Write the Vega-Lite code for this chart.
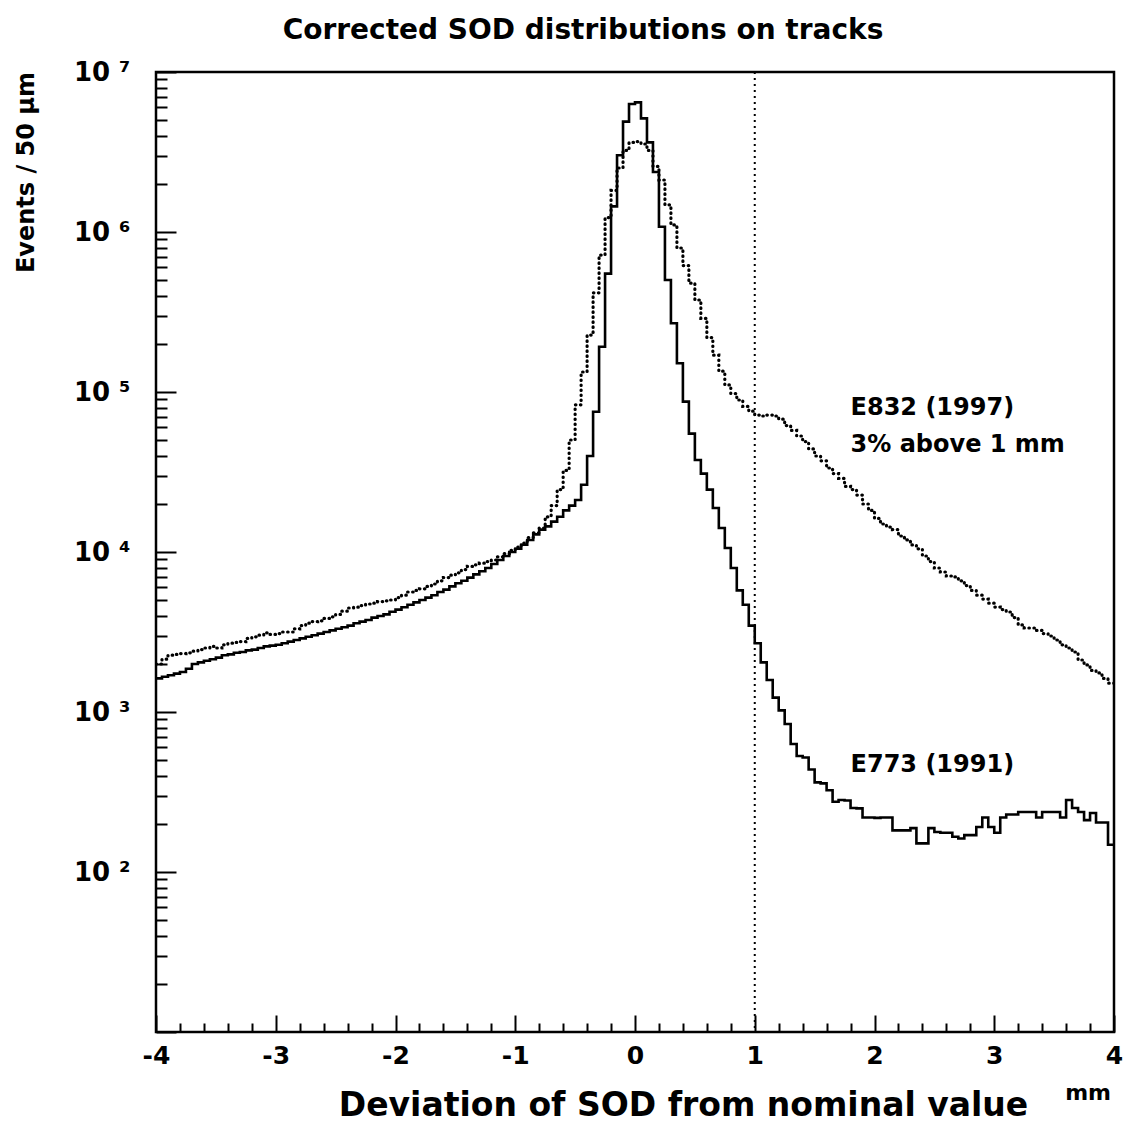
{
  "$schema": "https://vega.github.io/schema/vega-lite/v6.json",
  "width": 958,
  "height": 960,
  "autosize": {"type": "none"},
  "padding": {"left": 156, "top": 72, "right": 10, "bottom": 104},
  "background": "white",
  "title": {"text": "Corrected SOD distributions on tracks", "font": "DejaVu Sans", "fontSize": 28, "fontWeight": "bold", "color": "black", "anchor": "middle", "dx": -52, "offset": 14},
  "config": {
    "view": {"stroke": "black", "strokeWidth": 2.5},
    "axis": {"labelFont": "DejaVu Sans", "labelFontWeight": "bold", "labelColor": "black", "titleFont": "DejaVu Sans", "titleFontWeight": "bold", "titleColor": "black", "tickColor": "black", "tickWidth": 2, "grid": false, "domain": false, "labelFlush": false, "labelOverlap": false}
  },
  "resolve": {"axis": {"x": "independent", "y": "independent"}},
  "datasets": {
    "e773": [
      {"x":-4.00,"v":1622},{"x":-3.95,"v":1660},{"x":-3.90,"v":1698},{"x":-3.85,"v":1738},{"x":-3.80,"v":1778},{"x":-3.75,"v":1862},{"x":-3.70,"v":1995},{"x":-3.65,"v":2042},{"x":-3.60,"v":2089},{"x":-3.55,"v":2138},{"x":-3.50,"v":2188},{"x":-3.45,"v":2265},{"x":-3.40,"v":2291},{"x":-3.35,"v":2344},{"x":-3.30,"v":2371},{"x":-3.25,"v":2427},{"x":-3.20,"v":2455},{"x":-3.15,"v":2512},{"x":-3.10,"v":2570},{"x":-3.05,"v":2600},{"x":-3.00,"v":2630},{"x":-2.95,"v":2692},{"x":-2.90,"v":2754},{"x":-2.85,"v":2818},{"x":-2.80,"v":2884},{"x":-2.75,"v":2951},{"x":-2.70,"v":3020},{"x":-2.65,"v":3090},{"x":-2.60,"v":3162},{"x":-2.55,"v":3236},{"x":-2.50,"v":3311},{"x":-2.45,"v":3388},{"x":-2.40,"v":3467},{"x":-2.35,"v":3589},{"x":-2.30,"v":3673},{"x":-2.25,"v":3758},{"x":-2.20,"v":3890},{"x":-2.15,"v":3981},{"x":-2.10,"v":4074},{"x":-2.05,"v":4236},{"x":-2.00,"v":4365},{"x":-1.95,"v":4519},{"x":-1.90,"v":4677},{"x":-1.85,"v":4842},{"x":-1.80,"v":5012},{"x":-1.75,"v":5188},{"x":-1.70,"v":5370},{"x":-1.65,"v":5623},{"x":-1.60,"v":5821},{"x":-1.55,"v":6095},{"x":-1.50,"v":6383},{"x":-1.45,"v":6607},{"x":-1.40,"v":6918},{"x":-1.35,"v":7244},{"x":-1.30,"v":7586},{"x":-1.25,"v":7943},{"x":-1.20,"v":8414},{"x":-1.15,"v":8913},{"x":-1.10,"v":9441},{"x":-1.05,"v":10000},{"x":-1.00,"v":10470},{"x":-0.95,"v":11090},{"x":-0.90,"v":11890},{"x":-0.85,"v":12880},{"x":-0.80,"v":13800},{"x":-0.75,"v":14450},{"x":-0.70,"v":15490},{"x":-0.65,"v":16600},{"x":-0.60,"v":18200},{"x":-0.55,"v":19500},{"x":-0.50,"v":21130},{"x":-0.45,"v":26300},{"x":-0.40,"v":39810},{"x":-0.35,"v":75340},{"x":-0.30,"v":191900},{"x":-0.25,"v":549500},{"x":-0.20,"v":1445000},{"x":-0.15,"v":3020000},{"x":-0.10,"v":4898000},{"x":-0.05,"v":6310000},{"x":0.00,"v":6457000},{"x":0.05,"v":5129000},{"x":0.10,"v":3631000},{"x":0.15,"v":2371000},{"x":0.20,"v":1079000},{"x":0.25,"v":501200},{"x":0.30,"v":269200},{"x":0.35,"v":151400},{"x":0.40,"v":87100},{"x":0.45,"v":54950},{"x":0.50,"v":37580},{"x":0.55,"v":30900},{"x":0.60,"v":24550},{"x":0.65,"v":18840},{"x":0.70,"v":14130},{"x":0.75,"v":10590},{"x":0.80,"v":7943},{"x":0.85,"v":5754},{"x":0.90,"v":4677},{"x":0.95,"v":3467},{"x":1.00,"v":2692},{"x":1.05,"v":2042},{"x":1.10,"v":1585},{"x":1.15,"v":1230},{"x":1.20,"v":1023},{"x":1.25,"v":841},{"x":1.30,"v":631},{"x":1.35,"v":531},{"x":1.40,"v":520},{"x":1.45,"v":437},{"x":1.50,"v":363},{"x":1.55,"v":358},{"x":1.60,"v":324},{"x":1.65,"v":275},{"x":1.70,"v":282},{"x":1.75,"v":280},{"x":1.80,"v":251},{"x":1.85,"v":250},{"x":1.90,"v":219},{"x":1.95,"v":219},{"x":2.00,"v":218},{"x":2.05,"v":219},{"x":2.10,"v":219},{"x":2.15,"v":182},{"x":2.20,"v":182},{"x":2.25,"v":182},{"x":2.30,"v":188},{"x":2.35,"v":151},{"x":2.40,"v":151},{"x":2.45,"v":188},{"x":2.50,"v":178},{"x":2.55,"v":176},{"x":2.60,"v":176},{"x":2.65,"v":166},{"x":2.70,"v":162},{"x":2.75,"v":170},{"x":2.80,"v":170},{"x":2.85,"v":191},{"x":2.90,"v":219},{"x":2.95,"v":191},{"x":3.00,"v":176},{"x":3.05,"v":219},{"x":3.10,"v":229},{"x":3.15,"v":229},{"x":3.20,"v":237},{"x":3.25,"v":237},{"x":3.30,"v":237},{"x":3.35,"v":219},{"x":3.40,"v":237},{"x":3.45,"v":237},{"x":3.50,"v":237},{"x":3.55,"v":219},{"x":3.60,"v":282},{"x":3.65,"v":251},{"x":3.70,"v":237},{"x":3.75,"v":211},{"x":3.80,"v":234},{"x":3.85,"v":204},{"x":3.90,"v":204},{"x":3.95,"v":148},{"x":4.00,"v":148}
    ],
    "e832": [
      {"x":-4.00,"v":1995},{"x":-3.95,"v":2138},{"x":-3.90,"v":2265},{"x":-3.85,"v":2291},{"x":-3.80,"v":2317},{"x":-3.75,"v":2344},{"x":-3.70,"v":2399},{"x":-3.65,"v":2455},{"x":-3.60,"v":2512},{"x":-3.55,"v":2570},{"x":-3.50,"v":2512},{"x":-3.45,"v":2630},{"x":-3.40,"v":2692},{"x":-3.35,"v":2723},{"x":-3.30,"v":2754},{"x":-3.25,"v":2884},{"x":-3.20,"v":2951},{"x":-3.15,"v":3020},{"x":-3.10,"v":3126},{"x":-3.05,"v":3055},{"x":-3.00,"v":3090},{"x":-2.95,"v":3162},{"x":-2.90,"v":3162},{"x":-2.85,"v":3311},{"x":-2.80,"v":3467},{"x":-2.75,"v":3589},{"x":-2.70,"v":3673},{"x":-2.65,"v":3715},{"x":-2.60,"v":3846},{"x":-2.55,"v":3936},{"x":-2.50,"v":4074},{"x":-2.45,"v":4266},{"x":-2.40,"v":4467},{"x":-2.35,"v":4519},{"x":-2.30,"v":4624},{"x":-2.25,"v":4732},{"x":-2.20,"v":4786},{"x":-2.15,"v":4898},{"x":-2.10,"v":4955},{"x":-2.05,"v":5012},{"x":-2.00,"v":5188},{"x":-1.95,"v":5370},{"x":-1.90,"v":5623},{"x":-1.85,"v":5754},{"x":-1.80,"v":5888},{"x":-1.75,"v":6095},{"x":-1.70,"v":6310},{"x":-1.65,"v":6607},{"x":-1.60,"v":6918},{"x":-1.55,"v":7161},{"x":-1.50,"v":7413},{"x":-1.45,"v":7762},{"x":-1.40,"v":8128},{"x":-1.35,"v":8318},{"x":-1.30,"v":8511},{"x":-1.25,"v":8710},{"x":-1.20,"v":8913},{"x":-1.15,"v":9333},{"x":-1.10,"v":9772},{"x":-1.05,"v":10230},{"x":-1.00,"v":10720},{"x":-0.95,"v":11350},{"x":-0.90,"v":12300},{"x":-0.85,"v":13180},{"x":-0.80,"v":14130},{"x":-0.75,"v":16600},{"x":-0.70,"v":19500},{"x":-0.65,"v":24550},{"x":-0.60,"v":32360},{"x":-0.55,"v":50120},{"x":-0.50,"v":83180},{"x":-0.45,"v":133400},{"x":-0.40,"v":227000},{"x":-0.35,"v":416900},{"x":-0.30,"v":717800},{"x":-0.25,"v":1230000},{"x":-0.20,"v":1820000},{"x":-0.15,"v":2512000},{"x":-0.10,"v":3236000},{"x":-0.05,"v":3631000},{"x":0.00,"v":3673000},{"x":0.05,"v":3548000},{"x":0.10,"v":3236000},{"x":0.15,"v":2570000},{"x":0.20,"v":2113000},{"x":0.25,"v":1479000},{"x":0.30,"v":1107000},{"x":0.35,"v":794300},{"x":0.40,"v":616600},{"x":0.45,"v":478600},{"x":0.50,"v":375800},{"x":0.55,"v":288400},{"x":0.60,"v":218800},{"x":0.65,"v":169800},{"x":0.70,"v":134900},{"x":0.75,"v":110700},{"x":0.80,"v":97720},{"x":0.85,"v":89130},{"x":0.90,"v":81280},{"x":0.95,"v":75860},{"x":1.00,"v":71780},{"x":1.05,"v":70790},{"x":1.10,"v":71780},{"x":1.15,"v":70790},{"x":1.20,"v":67610},{"x":1.25,"v":61660},{"x":1.30,"v":57540},{"x":1.35,"v":53090},{"x":1.40,"v":48980},{"x":1.45,"v":44060},{"x":1.50,"v":39810},{"x":1.55,"v":37150},{"x":1.60,"v":33500},{"x":1.65,"v":30900},{"x":1.70,"v":28840},{"x":1.75,"v":25700},{"x":1.80,"v":24550},{"x":1.85,"v":22700},{"x":1.90,"v":19950},{"x":1.95,"v":18200},{"x":2.00,"v":16220},{"x":2.05,"v":14960},{"x":2.10,"v":14320},{"x":2.15,"v":13800},{"x":2.20,"v":12590},{"x":2.25,"v":11890},{"x":2.30,"v":11070},{"x":2.35,"v":10470},{"x":2.40,"v":9441},{"x":2.45,"v":8710},{"x":2.50,"v":7943},{"x":2.55,"v":7499},{"x":2.60,"v":7079},{"x":2.65,"v":6982},{"x":2.70,"v":6607},{"x":2.75,"v":6166},{"x":2.80,"v":5754},{"x":2.85,"v":5370},{"x":2.90,"v":5082},{"x":2.95,"v":4786},{"x":3.00,"v":4529},{"x":3.05,"v":4365},{"x":3.10,"v":4217},{"x":3.15,"v":3890},{"x":3.20,"v":3499},{"x":3.25,"v":3350},{"x":3.30,"v":3350},{"x":3.35,"v":3236},{"x":3.40,"v":3090},{"x":3.45,"v":2985},{"x":3.50,"v":2818},{"x":3.55,"v":2630},{"x":3.60,"v":2512},{"x":3.65,"v":2371},{"x":3.70,"v":2113},{"x":3.75,"v":1968},{"x":3.80,"v":1820},{"x":3.85,"v":1754},{"x":3.90,"v":1622},{"x":3.95,"v":1514},{"x":4.00,"v":1514}
    ],
    "notes": [
      {"x": 1.8, "v": 79400, "t": "E832 (1997)"},
      {"x": 1.8, "v": 46700, "t": "3% above 1 mm"},
      {"x": 1.8, "v": 467, "t": "E773 (1991)"}
    ]
  },
  "layer": [
    {
      "data": {"name": "e832"},
      "mark": {"type": "line", "interpolate": "step-after", "color": "black", "strokeWidth": 3.2, "strokeDash": [0.5, 4.5], "strokeCap": "round", "clip": true},
      "encoding": {
        "x": {"field": "x", "type": "quantitative",
          "scale": {"domain": [-4, 4], "nice": false, "zero": false},
          "axis": {
            "orient": "bottom",
            "values": [-4,-3,-2,-1,0,1,2,3,4],
            "tickSize": -17,
            "labelExpr": "'' + round(datum.value)",
            "labelFontSize": 25,
            "labelPadding": 28,
            "title": "Deviation of SOD from nominal value",
            "titleFontSize": 33,
            "titleX": 527, "titleY": 73, "titleBaseline": "middle", "titleAlign": "center"
          }
        },
        "y": {"field": "v", "type": "quantitative",
          "scale": {"type": "log", "domain": [10, 10000000], "nice": false},
          "axis": {
            "orient": "left",
            "values": [10,100,1000,10000,100000,1000000,10000000],
            "tickSize": -20,
            "labelExpr": "datum.value > 99 ? '10 ' + ['⁰','¹','²','³','⁴','⁵','⁶','⁷'][round(log(datum.value)/LN10)] : ''",
            "labelFontSize": 26,
            "labelPadding": 46,
            "title": "Events / 50 µm",
            "titleFontSize": 24,
            "titleAngle": -90,
            "titleX": -130, "titleY": 100, "titleAlign": "center", "titleBaseline": "middle"
          }
        }
      }
    },
    {
      "data": {"name": "e773"},
      "mark": {"type": "line", "interpolate": "step-after", "color": "black", "strokeWidth": 2.6, "clip": true},
      "encoding": {
        "x": {"field": "x", "type": "quantitative",
          "axis": {
            "orient": "bottom",
            "values": [-3.8,-3.6,-3.4,-3.2,-2.8,-2.6,-2.4,-2.2,-1.8,-1.6,-1.4,-1.2,-0.8,-0.6,-0.4,-0.2,0.2,0.4,0.6,0.8,1.2,1.4,1.6,1.8,2.2,2.4,2.6,2.8,3.2,3.4,3.6,3.8],
            "tickSize": -9,
            "labels": false,
            "title": null
          }
        },
        "y": {"field": "v", "type": "quantitative",
          "axis": {
            "orient": "left",
            "values": [20,30,40,50,60,70,80,90,200,300,400,500,600,700,800,900,2000,3000,4000,5000,6000,7000,8000,9000,20000,30000,40000,50000,60000,70000,80000,90000,200000,300000,400000,500000,600000,700000,800000,900000,2000000,3000000,4000000,5000000,6000000,7000000,8000000,9000000],
            "tickSize": -11,
            "labels": false,
            "title": null
          }
        }
      }
    },
    {
      "data": {"values": [{"x": 1}]},
      "mark": {"type": "rule", "color": "black", "strokeWidth": 2, "strokeDash": [2, 4]},
      "encoding": {"x": {"field": "x", "type": "quantitative", "axis": null}}
    },
    {
      "data": {"name": "notes"},
      "mark": {"type": "text", "align": "left", "baseline": "middle", "font": "DejaVu Sans", "fontWeight": "bold", "fontSize": 24, "color": "black"},
      "encoding": {
        "x": {"field": "x", "type": "quantitative", "axis": null},
        "y": {"field": "v", "type": "quantitative", "axis": null},
        "text": {"field": "t"}
      }
    },
    {
      "data": {"values": [{"x": 4, "v": 10, "t": "mm"}]},
      "mark": {"type": "text", "align": "right", "baseline": "middle", "font": "DejaVu Sans", "fontWeight": "bold", "fontSize": 22, "color": "black", "dy": 61, "dx": -3},
      "encoding": {
        "x": {"field": "x", "type": "quantitative", "axis": null},
        "y": {"field": "v", "type": "quantitative", "axis": null},
        "text": {"field": "t"}
      }
    }
  ]
}
